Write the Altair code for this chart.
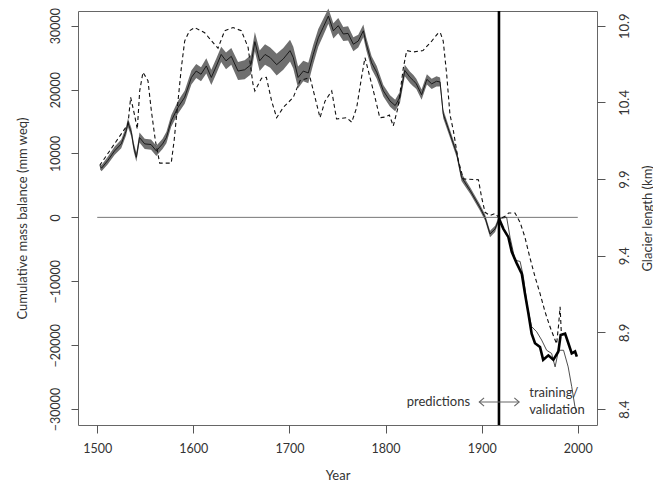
import altair as alt
import pandas as pd

FONT = "Lato"
TXT = "#333333"

# ---- reconstructed cumulative mass balance (mm w.e.), left axis ----
mb_year = [1503, 1504.5, 1511, 1518, 1525, 1530, 1532, 1535.5, 1538, 1540.7, 1544, 1549.4,
           1556, 1561.5, 1565, 1568, 1572, 1577, 1584, 1591, 1598, 1603, 1608, 1613.5,
           1618.7, 1624, 1629, 1634, 1639.5, 1646.5, 1653.4, 1660, 1664, 1669, 1674.6,
           1680, 1686.7, 1693.6, 1700.6, 1704, 1709, 1714.4, 1719.6, 1724.8, 1730, 1735,
           1740.5, 1745.7, 1750.8, 1756, 1761, 1766.5, 1771.6, 1776.9, 1780, 1785.5,
           1790.8, 1797.7, 1804.7, 1810, 1815, 1820, 1825.5, 1829, 1832, 1837.5, 1843,
           1848, 1853, 1856.7, 1860, 1867, 1874, 1879, 1888, 1898, 1903.5, 1908.7, 1914,
           1918]
mb_val = [8000, 7700, 8900, 10400, 11500, 13500, 14800, 13300, 11000, 9400, 12500, 11500,
          11400, 10400, 11000, 11500, 12500, 15100, 17200, 18800, 21900, 22900, 22400, 23700,
          21900, 23700, 25500, 24500, 25200, 22900, 23100, 23900, 27500, 24500, 25500,
          25000, 23900, 24800, 26100, 25000, 21900, 22900, 22600, 25500, 28100, 29700,
          31500, 29200, 30000, 28700, 28800, 27100, 27600, 29200, 27100, 24200,
          22700, 19800, 18200, 17500, 18800, 23000, 21900, 21400, 20900, 19200, 21600,
          20900, 21300, 21200, 16200, 13100, 10000, 6300, 4200, 1600, 0, -2600, -1800,
          -200]
mb_half = [500, 500, 600, 650, 700, 700, 700, 700, 700, 700, 800, 800,
           800, 800, 800, 800, 900, 900, 1000, 1000, 1100, 1100, 1100, 1200,
           1200, 1200, 1200, 1300, 1300, 1400, 1500, 1500, 1500, 1600, 1600,
           1600, 1700, 1700, 1700, 1700, 1700, 1600, 1600, 1500, 1400, 1300,
           1200, 1200, 1200, 1100, 1100, 1100, 1000, 1000, 1000, 1000,
           1000, 900, 900, 900, 900, 900, 900, 900, 800, 800, 800,
           800, 800, 700, 700, 600, 600, 600, 500, 500, 500, 500, 500,
           400]

# ---- training / validation period (left axis) ----
thick_year = [1918, 1922.6, 1927.8, 1931.3, 1936.5, 1941.7, 1945, 1948.6, 1952, 1955.5,
              1960.7, 1964, 1969.4, 1974.6, 1979.8, 1982.2, 1986.8, 1990.2, 1993.7,
              1997.2, 1999]
thick_val = [-200, -1800, -3100, -5400, -7200, -8800, -11900, -15000, -18200, -19700,
             -20300, -22300, -21600, -22300, -21000, -18400, -18200, -19700, -21300,
             -21000, -21800]
thin_year = [1918, 1926, 1929.5, 1934.7, 1940, 1943.4, 1947.6, 1952, 1957.2, 1962.4,
             1967.6, 1972.8, 1976.4, 1980, 1985.2, 1990, 1993.7, 1997, 1999]
thin_val = [-200, 0, -3100, -6700, -6900, -9300, -14000, -17100, -17900, -19200,
            -20800, -21300, -23400, -20800, -20800, -23400, -26500, -29600, -30600]

# ---- glacier length (km), right axis, dashed ----
len_year = [1502.5, 1532, 1534.8, 1539, 1541.7, 1544.2, 1547.6, 1552.8, 1556.3, 1560.5,
            1565, 1577, 1580, 1583.4, 1587.5, 1591, 1596, 1601.4, 1611.8, 1622, 1625.7,
            1632.6, 1641.3, 1650, 1657, 1662, 1664, 1671, 1676, 1681.5, 1686.7, 1693.6,
            1704, 1711, 1721.4, 1726.6, 1731.8, 1737, 1744, 1749, 1759.5, 1764.8, 1770,
            1775, 1778.6, 1783.8, 1789, 1794, 1799.5, 1804, 1808, 1813, 1818.5, 1822,
            1829, 1839, 1848, 1855, 1857, 1860, 1863.6, 1867, 1870.5, 1875.7, 1881,
            1896.6, 1900, 1903.5, 1908.7, 1914, 1919, 1926, 1928, 1934.7, 1940, 1945,
            1950, 1955.5, 1960.7, 1966, 1971, 1976.4, 1978, 1980, 1981.6, 1983]
len_km = [9.988, 10.258, 10.433, 10.313, 10.225, 10.475, 10.596, 10.542, 10.346, 10.150,
          10.004, 10.004, 10.150, 10.367, 10.625, 10.800, 10.867, 10.888, 10.854, 10.779, 10.754,
          10.867, 10.888, 10.867, 10.758, 10.521, 10.475, 10.558, 10.563, 10.408, 10.300, 10.367,
          10.433, 10.542, 10.563, 10.433, 10.300, 10.408, 10.475, 10.292, 10.300, 10.271, 10.367,
          10.563, 10.692, 10.563, 10.433, 10.300, 10.304, 10.317, 10.246, 10.367, 10.625, 10.738,
          10.729, 10.738, 10.800, 10.854, 10.854, 10.800, 10.583, 10.321, 10.217, 10.021, 9.900,
          9.896, 9.779, 9.683, 9.663, 9.675, 9.642, 9.663, 9.679, 9.679, 9.617, 9.521,
          9.392, 9.263, 9.154, 9.033, 8.938, 8.850, 8.825, 8.946, 9.067, 8.879]

split_year = 1918
zero_from, zero_to = 1500, 2000
x_ticks = [1500, 1600, 1700, 1800, 1900, 2000]
left_ticks = [-30000, -20000, -10000, 0, 10000, 20000, 30000]
right_ticks = [8.4, 8.9, 9.4, 9.9, 10.4, 10.9]

# annotation texts
ann_text = ["predictions", "training/", "validation"]
ann_year = [1888, 1949.5, 1949.5]
ann_val = [-28900, -27500, -30100]
ann_align = ["right", "left", "left"]
arrow_from, arrow_to, arrow_val = 1897.5, 1939, -28900

W, H = 519, 414
xs = alt.Scale(domain=[1480, 2020], nice=False, zero=False)
ys = alt.Scale(domain=[-32500, 32300], nice=False, zero=False)
yr = alt.Scale(domain=[8.296, 10.996], nice=False, zero=False)

x_axis = alt.Axis(values=x_ticks, format="d", grid=False, domain=False, tickSize=8,
                  tickColor="#555", labelPadding=9, labelFontSize=12.5, labelColor=TXT,
                  labelFont=FONT, title="Year", titleFont=FONT, titleFontSize=13,
                  titleFontWeight="normal", titleColor=TXT, titleY=50,
                  titleBaseline="middle")
y_axis = alt.Axis(values=left_ticks, format="d", grid=False, domain=False, tickSize=7,
                  tickColor="#555", labelAngle=-90, labelAlign="center",
                  labelBaseline="bottom", labelPadding=9, labelFontSize=12.5,
                  labelColor=TXT, labelFont=FONT, title="Cumulative mass balance (mm weq)",
                  titleFont=FONT, titleFontSize=13, titleFontWeight="normal",
                  titleColor=TXT, titleAngle=-90, titleX=-56, titleY=207,
                  titleAlign="center", titleBaseline="middle")
r_axis = alt.Axis(values=right_ticks, format=".1f", grid=False, domain=False, tickSize=8,
                  tickColor="#555", labelAngle=-90, labelAlign="center",
                  labelBaseline="top", labelPadding=13, labelFontSize=13,
                  labelColor=TXT, labelFont=FONT, title="Glacier length (km)",
                  titleFont=FONT, titleFontSize=13, titleFontWeight="normal",
                  titleColor=TXT, titleAngle=-90, titleX=50, titleY=207,
                  titleAlign="center", titleBaseline="middle", orient="right")

X = lambda f="year": alt.X(f"{f}:Q", scale=xs, axis=x_axis)
Y = lambda f="v": alt.Y(f"{f}:Q", scale=ys, axis=y_axis)

mb = pd.DataFrame({"year": mb_year, "v": mb_val, "h": mb_half})
mb["lo"] = mb["v"] - mb["h"]
mb["hi"] = mb["v"] + mb["h"]

band = alt.Chart(mb).mark_area(color="#6f6f6f", opacity=1).encode(
    x=X(), y=alt.Y("lo:Q", scale=ys, axis=y_axis), y2="hi:Q")
main = alt.Chart(mb).mark_line(color="#111", strokeWidth=0.9).encode(x=X(), y=Y())

zero = alt.Chart(pd.DataFrame({"year": [zero_from], "year2": [zero_to], "v": [0]})).mark_rule(
    color="#777", strokeWidth=1).encode(x=X(), x2="year2:Q", y=Y())

thin = alt.Chart(pd.DataFrame({"year": thin_year, "v": thin_val})).mark_line(
    color="#222", strokeWidth=0.8).encode(x=X(), y=Y())
thick = alt.Chart(pd.DataFrame({"year": thick_year, "v": thick_val})).mark_line(
    color="#000", strokeWidth=2.6).encode(x=X(), y=Y())

vline = alt.Chart(pd.DataFrame({"year": [split_year]})).mark_rule(
    color="#000", strokeWidth=2.6).encode(x=X())

ann = pd.DataFrame({"t": ann_text, "year": ann_year, "v": ann_val, "al": ann_align})
txt_r = alt.Chart(ann[ann.al == "right"]).mark_text(
    align="right", baseline="middle", font=FONT, fontSize=13, color=TXT).encode(
    x=X(), y=Y(), text="t:N")
txt_l = alt.Chart(ann[ann.al == "left"]).mark_text(
    align="left", baseline="middle", font=FONT, fontSize=13, color=TXT).encode(
    x=X(), y=Y(), text="t:N")

hx, hy = 5.0, 650
arrow_df = pd.DataFrame({
    "seg": ["s", "s", "l", "l", "l", "r", "r", "r"],
    "o": [0, 1, 0, 1, 2, 0, 1, 2],
    "year": [arrow_from, arrow_to,
             arrow_from + hx, arrow_from, arrow_from + hx,
             arrow_to - hx, arrow_to, arrow_to - hx],
    "v": [arrow_val, arrow_val,
          arrow_val + hy, arrow_val, arrow_val - hy,
          arrow_val + hy, arrow_val, arrow_val - hy],
})
arrow = alt.Chart(arrow_df).mark_line(color="#666", strokeWidth=1.1).encode(
    x=X(), y=Y(), detail="seg:N", order="o:Q")

left = alt.layer(band, main, zero, thin, thick, vline, arrow, txt_r, txt_l)

dashed = alt.Chart(pd.DataFrame({"year": len_year, "km": len_km})).mark_line(
    color="#111", strokeWidth=1.1, strokeDash=[4, 3]).encode(
    x=X(), y=alt.Y("km:Q", scale=yr, axis=r_axis))

chart = alt.layer(left, dashed).resolve_scale(y="independent").properties(
    width=W, height=H,
    autosize=alt.AutoSizeParams(type="none"),
    padding={"left": 70, "top": 3, "right": 56, "bottom": 58},
    background="white",
).configure_view(stroke="#666", strokeWidth=1)

chart.save("out.html", embed_options={"renderer": "svg", "actions": False})
